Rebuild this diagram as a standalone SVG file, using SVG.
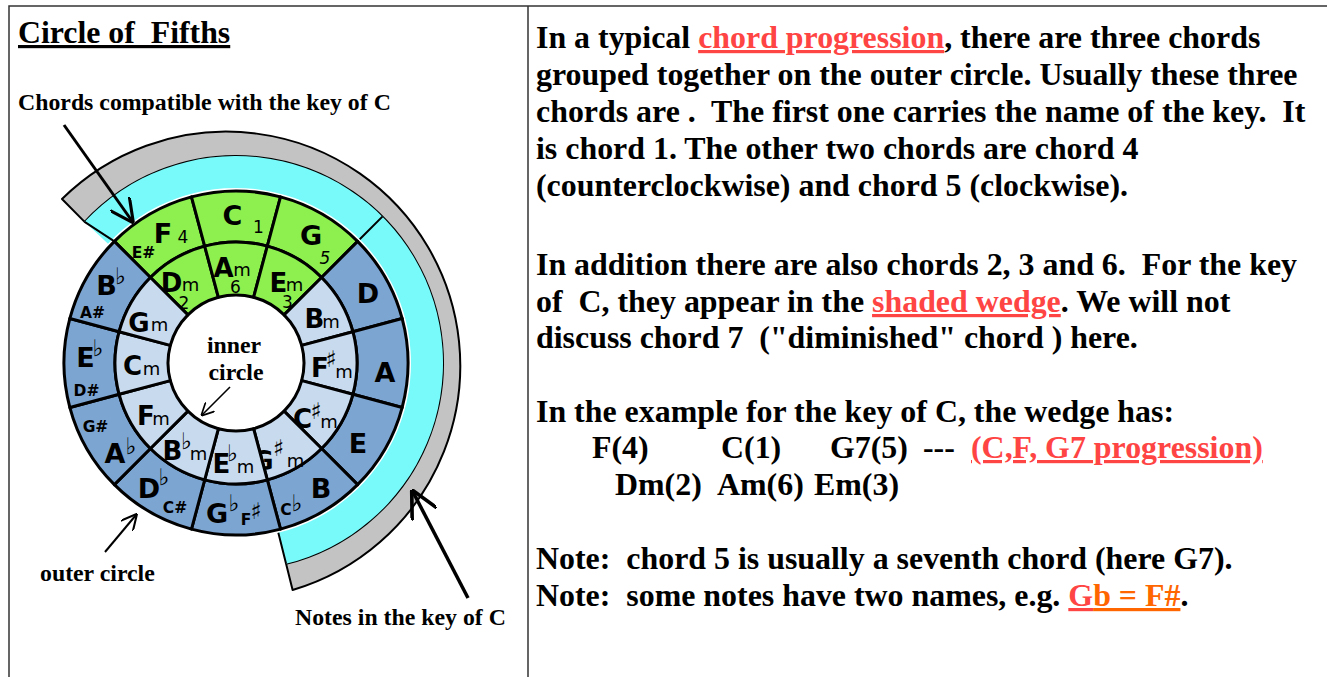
<svg xmlns="http://www.w3.org/2000/svg" width="1327" height="677" viewBox="0 0 1327 677">
<defs>
<style>
.frame{stroke:#333;stroke-width:1.5;fill:none}
.t{font-family:"Liberation Serif","Times New Roman",serif;font-weight:bold;fill:#000;white-space:pre}
.body{font-size:31.9px}
.title{font-size:31.8px;text-decoration:underline}
.lbl{font-size:23.8px}
.link{fill:#f44;text-decoration:underline}
.orange{fill:#f60;text-decoration:underline}
.seg{stroke:#000;stroke-width:3;stroke-linejoin:round}
.green{fill:#8df04f}
.dark{fill:#7da5d2}
.light{fill:#c8daee}
.cyan{fill:#78fafa}
.gray{fill:#c3c3c3;stroke:#000;stroke-width:2;stroke-linejoin:round}
.edge{stroke:#000;stroke-width:2;fill:none}
.s{font-family:"DejaVu Sans","Liberation Sans",sans-serif;fill:#000;text-anchor:middle}
.cap{font-size:27px;font-weight:bold}
.cap2{font-size:26px;font-weight:bold}
.m{font-size:18px}
.acc{font-size:23px}
.alt{font-size:15.5px;font-weight:bold}
.num{font-size:17px}
.arrow{stroke:#000;fill:none;marker-end:url(#ah)}
</style>
<marker id="ah" viewBox="0 0 10 10" refX="9" refY="5" markerWidth="8" markerHeight="8" orient="auto" markerUnits="strokeWidth">
<path d="M0,0 L10,5 L0,10" fill="none" stroke="#000" stroke-width="1.3"/>
</marker>
</defs>
<rect width="1327" height="677" fill="#fff"/>
<g id="frame">
<path class="frame" d="M9,677 V6 H1327 M528,6 V677"/>
</g>

<g id="bands">
<path id="notes-band" class="gray" d="M84.61,221.83 A207,207 0 1 1 286.08,563.85 L292.61,590.05 A234,234 0 1 0 62,199 Z"/>
<path id="chords-band" class="cyan" d="M108.01,243.65 A175,175 0 1 1 278.34,532.80 L286.08,563.85 A207,207 0 1 0 84.61,221.83 Z"/>
<path class="edge" d="M114.38,241.38 L84.61,221.83 M278.34,532.80 L286.08,563.85 M359.74,239.26 L382.37,216.63"/>
</g>

<g id="outer-circle">
<g id="o-F"><path class="seg green" d="M150.44,277.44 L114.38,241.38 A172,172 0 0 1 191.48,196.86 L204.68,246.12 A121,121 0 0 0 150.44,277.44Z"/>
<text class="s"><tspan class="cap" x="163" y="243">F</tspan><tspan class="num" x="183" y="243">4</tspan><tspan class="alt" x="143.5" y="258">E#</tspan></text></g>
<g id="o-C"><path class="seg green" d="M204.68,246.12 L191.48,196.86 A172,172 0 0 1 280.52,196.86 L267.32,246.12 A121,121 0 0 0 204.68,246.12Z"/>
<text class="s"><tspan class="cap" x="232.5" y="225">C</tspan><tspan class="num" x="258.5" y="233">1</tspan></text></g>
<g id="o-G"><path class="seg green" d="M267.32,246.12 L280.52,196.86 A172,172 0 0 1 357.62,241.38 L321.56,277.44 A121,121 0 0 0 267.32,246.12Z"/>
<text class="s"><tspan class="cap" x="311" y="245">G</tspan><tspan class="num" x="325" y="264" font-style="italic">5</tspan></text></g>
<g id="o-D"><path class="seg dark" d="M321.56,277.44 L357.62,241.38 A172,172 0 0 1 402.14,318.48 L352.88,331.68 A121,121 0 0 0 321.56,277.44Z"/>
<text class="s cap" x="368" y="303">D</text></g>
<g id="o-A"><path class="seg dark" d="M352.88,331.68 L402.14,318.48 A172,172 0 0 1 402.14,407.52 L352.88,394.32 A121,121 0 0 0 352.88,331.68Z"/>
<text class="s cap" x="385" y="382">A</text></g>
<g id="o-E"><path class="seg dark" d="M352.88,394.32 L402.14,407.52 A172,172 0 0 1 357.62,484.62 L321.56,448.56 A121,121 0 0 0 352.88,394.32Z"/>
<text class="s cap" x="358" y="453">E</text></g>
<g id="o-B"><path class="seg dark" d="M321.56,448.56 L357.62,484.62 A172,172 0 0 1 280.52,529.14 L267.32,479.88 A121,121 0 0 0 321.56,448.56Z"/>
<text class="s"><tspan class="cap" x="321" y="498">B</tspan><tspan class="alt" x="286" y="515">C</tspan><tspan class="acc" x="297" y="511">♭</tspan></text></g>
<g id="o-Gb"><path class="seg dark" d="M267.32,479.88 L280.52,529.14 A172,172 0 0 1 191.48,529.14 L204.68,479.88 A121,121 0 0 0 267.32,479.88Z"/>
<text class="s"><tspan class="cap" x="217" y="523">G</tspan><tspan class="acc" x="234" y="511">♭</tspan><tspan class="alt" x="246" y="525">F</tspan><tspan class="acc" x="256" y="519">♯</tspan></text></g>
<g id="o-Db"><path class="seg dark" d="M204.68,479.88 L191.48,529.14 A172,172 0 0 1 114.38,484.62 L150.44,448.56 A121,121 0 0 0 204.68,479.88Z"/>
<text class="s"><tspan class="cap" x="149" y="498">D</tspan><tspan class="acc" x="164" y="485">♭</tspan><tspan class="alt" x="175" y="513">C#</tspan></text></g>
<g id="o-Ab"><path class="seg dark" d="M150.44,448.56 L114.38,484.62 A172,172 0 0 1 69.86,407.52 L119.12,394.32 A121,121 0 0 0 150.44,448.56Z"/>
<text class="s"><tspan class="alt" x="95.5" y="432">G#</tspan><tspan class="cap" x="115" y="463">A</tspan><tspan class="acc" x="131" y="454">♭</tspan></text></g>
<g id="o-Eb"><path class="seg dark" d="M119.12,394.32 L69.86,407.52 A172,172 0 0 1 69.86,318.48 L119.12,331.68 A121,121 0 0 0 119.12,394.32Z"/>
<text class="s"><tspan class="cap" x="85.5" y="367">E</tspan><tspan class="acc" x="98" y="356">♭</tspan><tspan class="alt" x="86.5" y="396">D#</tspan></text></g>
<g id="o-Bb"><path class="seg dark" d="M119.12,331.68 L69.86,318.48 A172,172 0 0 1 114.38,241.38 L150.44,277.44 A121,121 0 0 0 119.12,331.68Z"/>
<text class="s"><tspan class="cap" x="106.5" y="295">B</tspan><tspan class="acc" x="120.5" y="284">♭</tspan><tspan class="alt" x="92.5" y="318">A#</tspan></text></g>
</g>

<g id="inner-ring">
<g id="i-Dm"><path class="seg green" d="M187.92,314.92 L150.44,277.44 A121,121 0 0 1 204.68,246.12 L218.40,297.32 A68,68 0 0 0 187.92,314.92Z"/>
<text class="s"><tspan class="cap2" x="171.5" y="292">D</tspan><tspan class="m" x="190.5" y="291">m</tspan><tspan class="num" x="184" y="309">2</tspan></text></g>
<g id="i-Am"><path class="seg green" d="M218.40,297.32 L204.68,246.12 A121,121 0 0 1 267.32,246.12 L253.60,297.32 A68,68 0 0 0 218.40,297.32Z"/>
<text class="s"><tspan class="cap2" x="223.5" y="277">A</tspan><tspan class="m" x="242" y="276">m</tspan><tspan class="num" x="235.5" y="293">6</tspan></text></g>
<g id="i-Em"><path class="seg green" d="M253.60,297.32 L267.32,246.12 A121,121 0 0 1 321.56,277.44 L284.08,314.92 A68,68 0 0 0 253.60,297.32Z"/>
<text class="s"><tspan class="cap2" x="278.5" y="292">E</tspan><tspan class="m" x="294.5" y="291">m</tspan><tspan class="num" x="287.5" y="308">3</tspan></text></g>
<g id="i-Bm"><path class="seg light" d="M284.08,314.92 L321.56,277.44 A121,121 0 0 1 352.88,331.68 L301.68,345.40 A68,68 0 0 0 284.08,314.92Z"/>
<text class="s"><tspan class="cap2" x="314.5" y="328">B</tspan><tspan class="m" x="331" y="328">m</tspan></text></g>
<g id="i-Fsm"><path class="seg light" d="M301.68,345.40 L352.88,331.68 A121,121 0 0 1 352.88,394.32 L301.68,380.60 A68,68 0 0 0 301.68,345.40Z"/>
<text class="s"><tspan class="cap2" x="320" y="377">F</tspan><tspan class="acc" x="331" y="367">♯</tspan><tspan class="m" x="344" y="378">m</tspan></text></g>
<g id="i-Csm"><path class="seg light" d="M301.68,380.60 L352.88,394.32 A121,121 0 0 1 321.56,448.56 L284.08,411.08 A68,68 0 0 0 301.68,380.60Z"/>
<text class="s"><tspan class="cap2" x="302.5" y="428">C</tspan><tspan class="acc" x="316" y="419">♯</tspan><tspan class="m" x="329" y="428">m</tspan></text></g>
<g id="i-Gsm"><path class="seg light" d="M284.08,411.08 L321.56,448.56 A121,121 0 0 1 267.32,479.88 L253.60,428.68 A68,68 0 0 0 284.08,411.08Z"/>
<text class="s"><tspan class="cap2" x="263" y="470">G</tspan><tspan class="acc" x="278.5" y="456">♯</tspan><tspan class="m" x="295.5" y="467">m</tspan></text></g>
<g id="i-Ebm"><path class="seg light" d="M253.60,428.68 L267.32,479.88 A121,121 0 0 1 204.68,479.88 L218.40,428.68 A68,68 0 0 0 253.60,428.68Z"/>
<text class="s"><tspan class="cap2" x="221.5" y="473">E</tspan><tspan class="acc" x="232.5" y="461">♭</tspan><tspan class="m" x="245.5" y="473">m</tspan></text></g>
<g id="i-Bbm"><path class="seg light" d="M218.40,428.68 L204.68,479.88 A121,121 0 0 1 150.44,448.56 L187.92,411.08 A68,68 0 0 0 218.40,428.68Z"/>
<text class="s"><tspan class="cap2" x="172.5" y="460">B</tspan><tspan class="acc" x="186.5" y="449">♭</tspan><tspan class="m" x="198.5" y="460">m</tspan></text></g>
<g id="i-Fm"><path class="seg light" d="M187.92,411.08 L150.44,448.56 A121,121 0 0 1 119.12,394.32 L170.32,380.60 A68,68 0 0 0 187.92,411.08Z"/>
<text class="s"><tspan class="cap2" x="146" y="425">F</tspan><tspan class="m" x="161" y="425">m</tspan></text></g>
<g id="i-Cm"><path class="seg light" d="M170.32,380.60 L119.12,394.32 A121,121 0 0 1 119.12,331.68 L170.32,345.40 A68,68 0 0 0 170.32,380.60Z"/>
<text class="s"><tspan class="cap2" x="132.5" y="375">C</tspan><tspan class="m" x="151.5" y="375">m</tspan></text></g>
<g id="i-Gm"><path class="seg light" d="M170.32,345.40 L119.12,331.68 A121,121 0 0 1 150.44,277.44 L187.92,314.92 A68,68 0 0 0 170.32,345.40Z"/>
<text class="s"><tspan class="cap2" x="139" y="332">G</tspan><tspan class="m" x="159.5" y="331">m</tspan></text></g>
</g>

<g id="labels">
<text class="t title" x="18" y="43">Circle of  Fifths</text>
<text class="t lbl" x="18" y="110">Chords compatible with the key of C</text>
<text class="t lbl" text-anchor="middle" x="234" y="353">inner</text>
<text class="t lbl" text-anchor="middle" x="236" y="380">circle</text>
<text class="t lbl" x="40" y="581">outer circle</text>
<text class="t lbl" x="295" y="625">Notes in the key of C</text>
</g>

<g id="connectors">
<line class="arrow" x1="64" y1="125" x2="132" y2="221" stroke-width="3"/>
<line class="arrow" x1="230" y1="387" x2="202" y2="415" stroke-width="1.6"/>
<line class="arrow" x1="105" y1="552" x2="136" y2="515" stroke-width="2"/>
<line class="arrow" x1="468" y1="598" x2="413" y2="492" stroke-width="3.5"/>
</g>

<g id="explanation">
<text class="t body" x="536" y="48">In a typical <tspan class="link">chord progression</tspan>, there are three chords</text>
<text class="t body" x="536" y="85">grouped together on the outer circle. Usually these three</text>
<text class="t body" x="536" y="122">chords are .  The first one carries the name of the key.  It</text>
<text class="t body" x="536" y="159">is chord 1. The other two chords are chord 4</text>
<text class="t body" x="536" y="196">(counterclockwise) and chord 5 (clockwise).</text>
<text class="t body" x="536" y="275">In addition there are also chords 2, 3 and 6.  For the key</text>
<text class="t body" x="536" y="312">of  C, they appear in the <tspan class="link">shaded wedge</tspan>. We will not</text>
<text class="t body" x="536" y="348">discuss chord 7  ("diminished" chord ) here.</text>
<text class="t body" x="536" y="422">In the example for the key of C, the wedge has:</text>
<text class="t body" y="458"><tspan x="592">F(4)</tspan><tspan x="721">C(1)</tspan><tspan x="830">G7(5)</tspan><tspan x="923">---</tspan><tspan x="971" class="link">(C,F, G7 progression)</tspan></text>
<text class="t body" y="495"><tspan x="615">Dm(2)</tspan><tspan x="717">Am(6)</tspan><tspan x="814">Em(3)</tspan></text>
<text class="t body" x="536" y="569">Note:  chord 5 is usually a seventh chord (here G7).</text>
<text class="t body" x="536" y="606">Note:  some notes have two names, e.g. <tspan class="link">G</tspan><tspan class="orange">b = F#</tspan>.</text>
</g>
</svg>
